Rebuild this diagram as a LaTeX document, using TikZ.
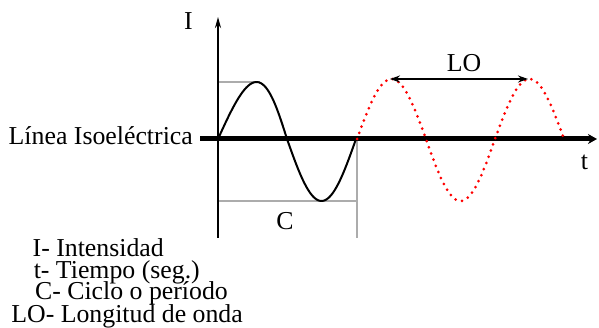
\documentclass[tikz,border=0pt]{standalone}
\usepackage{fontspec}
\setmainfont{Liberation Serif}
\usetikzlibrary{arrows.meta,positioning}

\begin{document}
\begin{tikzpicture}[
  x=1pt, y=-1pt,
  lbl/.style={font=\fontsize{25.8}{22}\selectfont, inner sep=0pt},
  guide/.style={gray!65, line width=1.4pt},
  wave/.style={black, line width=2pt},
  dotwave/.style={red, line width=3pt, line cap=round, dash pattern=on 0pt off 6.6pt},
  >=Stealth
]
\useasboundingbox (0,0) rectangle (599,328);

% axes and guide points
\coordinate (o) at (218,139);
\coordinate (ytop) at (218,17);
\coordinate (ybot) at (218,238);
\coordinate (xl) at (200,139);
\coordinate (xr) at (597,139);
\coordinate (pk) at (218,82);
\coordinate (pkend) at (260,82);
\coordinate (tr) at (218,201);
\coordinate (trend) at (357,201);
\coordinate (cyc) at (357,139);
\coordinate (cycb) at (357,238);
\coordinate (lo1) at (390,79);
\coordinate (lo2) at (528,79);

% guides
\draw[guide] (pk) -- (pkend);
\draw[guide] (tr) -- (trend);
\draw[guide] (cyc) -- (cycb);

% I axis
\draw[line width=2pt, -{Stealth[length=11pt, width=6pt]}] (ybot) -- (ytop);

% isoelectric line
\draw[line width=5pt, -{Stealth[length=9pt, width=10pt]}] (xl) -- (xr);

% one cycle
\draw[wave] plot[domain=0:69, samples=40, smooth] ({218+\x+4*sin(\x*2.6087)}, {139-57*sin(\x*2.6087)})
  -- plot[domain=69:138, samples=40, smooth] ({218+\x}, {139-62*sin(\x*2.6087)});

% continued wave
\draw[dotwave] plot[domain=0:69, samples=40, smooth] ({357+\x}, {139-60*sin(\x*2.6087)})
  -- plot[domain=69:138, samples=40, smooth] ({357+\x}, {139-62*sin(\x*2.6087)})
  -- plot[domain=138:207, samples=40, smooth] ({357+\x}, {139-60*sin(\x*2.6087)});

% wavelength
\draw[line width=1.5pt, {Stealth[length=10pt, width=7pt]}-{Stealth[length=10pt, width=7pt]}] (lo1) -- (lo2);

% labels
\node[lbl, anchor=base] (Ilab) at (188.5,30) {I};
\node[lbl, anchor=base] (tlab) at (584.5,170) {t};
\node[lbl, anchor=base] (Clab) at (285,230) {C};
\node[lbl, anchor=base] (LOlab) at (464,72) {LO};
\node[lbl, anchor=base east] (iso) at (193,145) {Línea Isoeléctrica};

% legend
\node[lbl, anchor=base east] (legI) at (164,257) {I- Intensidad};
\node[lbl, anchor=base east] (legt) at (200,278.5) {t- Tiempo (seg.)};
\node[lbl, anchor=base east] (legC) at (228,300) {C- Ciclo o período};
\node[lbl, anchor=base east] (legLO) at (243,322) {LO- Longitud de onda};
\end{tikzpicture}
\end{document}
